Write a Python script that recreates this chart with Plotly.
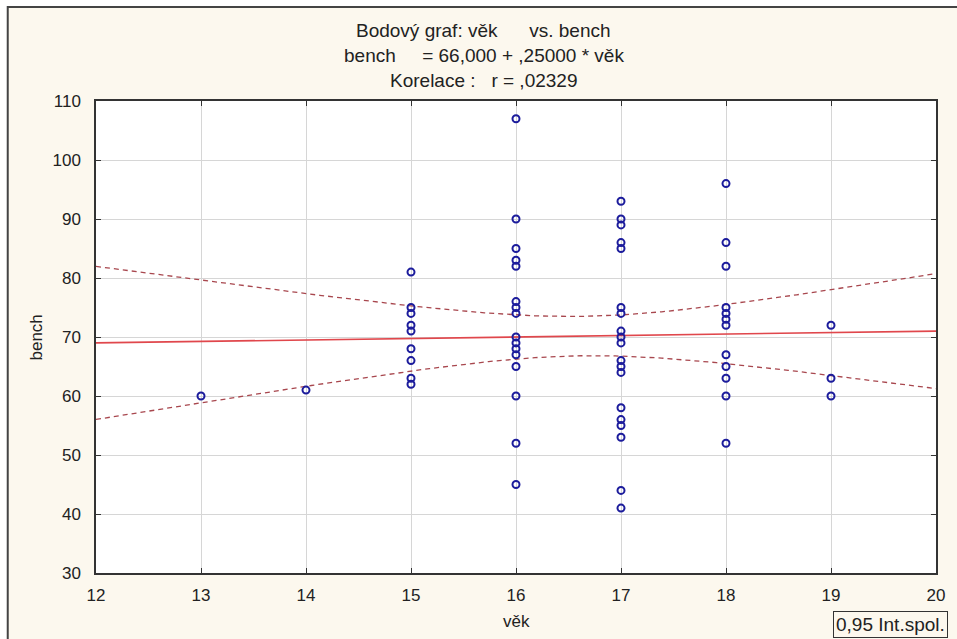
import numpy as np
import plotly.graph_objects as go

# Observations: age (věk) and bench press result (bench)
vek = [13, 14,
       15, 15, 15, 15, 15, 15, 15, 15, 15,
       16, 16, 16, 16, 16, 16, 16, 16, 16, 16, 16, 16, 16, 16, 16, 16,
       17, 17, 17, 17, 17, 17, 17, 17, 17, 17, 17, 17, 17, 17, 17, 17, 17, 17, 17,
       18, 18, 18, 18, 18, 18, 18, 18, 18, 18, 18, 18,
       19, 19, 19]
bench = [60, 61,
         81, 75, 74, 72, 71, 68, 66, 63, 62,
         107, 90, 85, 83, 82, 76, 75, 74, 70, 69, 68, 67, 65, 60, 52, 45,
         93, 90, 89, 86, 85, 75, 74, 71, 70, 69, 66, 65, 64, 58, 56, 55, 53, 44, 41,
         96, 86, 82, 75, 74, 73, 72, 67, 65, 63, 60, 52,
         72, 63, 60]

# Fitted line reported in the header
intercept = 66.0
slope = 0.25
r_value = 0.02329
t_crit = 2.001  # Student t, 0.975 quantile, n-2 degrees of freedom

x_range = [12, 20]
y_range = [30, 110]
x_ticks = [12, 13, 14, 15, 16, 17, 18, 19, 20]
y_ticks = [30, 40, 50, 60, 70, 80, 90, 100, 110]

title_lines = [
    "Bodový graf: věk" + "\u00a0" * 6 + "vs. bench",
    "bench" + "\u00a0" * 5 + "= 66,000 + ,25000 * věk",
    "Korelace :" + "\u00a0" * 3 + "r = ,02329",
]

# 95% confidence band of the regression line
x = np.array(vek, dtype=float)
y = np.array(bench, dtype=float)
n = len(x)
xbar = x.mean()
sxx = ((x - xbar) ** 2).sum()
resid = y - (intercept + slope * x)
s = np.sqrt((resid ** 2).sum() / (n - 2))
xs = np.linspace(x_range[0], x_range[1], 200)
fit = intercept + slope * xs
half = t_crit * s * np.sqrt(1.0 / n + (xs - xbar) ** 2 / sxx)

# Plot geometry in pixels
W, H = 957, 639
ML, MR, MT, MB = 96, 14, 101, 66
PW, PH = W - ML - MR, H - MT - MB


def px(xp):
    return (xp - ML) / PW


def py(yp):
    return (H - MB - yp) / PH


navy = "#1c1c9c"
band_col = "#a8474e"
line_col = "#e0474c"
cream = "#fcf8ee"
font_family = "Liberation Sans, Arial, sans-serif"

fig = go.Figure()
fig.add_trace(go.Scatter(x=xs, y=fit - half, mode="lines",
                         line=dict(color=band_col, width=1.3, dash="5px,4px"),
                         hoverinfo="skip"))
fig.add_trace(go.Scatter(x=xs, y=fit + half, mode="lines",
                         line=dict(color=band_col, width=1.3, dash="5px,4px"),
                         hoverinfo="skip"))
fig.add_trace(go.Scatter(x=xs, y=fit, mode="lines",
                         line=dict(color=line_col, width=1.6), hoverinfo="skip"))
fig.add_trace(go.Scatter(x=vek, y=bench, mode="markers",
                         marker=dict(symbol="circle-open", size=7, color=navy,
                                     line=dict(width=2, color=navy))))

shapes = [
    # outer frame with cream fill
    dict(type="rect", xref="paper", yref="paper", layer="below",
         x0=px(7), x1=px(W + 40), y0=py(H + 40), y1=py(7),
         fillcolor=cream, line=dict(color="#444444", width=2)),
    # white plotting area
    dict(type="rect", xref="paper", yref="paper", layer="below",
         x0=0, x1=1, y0=0, y1=1, fillcolor="white", line=dict(width=0)),
]

annotations = []
for txt, yc in zip(title_lines, [30, 56, 81]):
    annotations.append(dict(text=txt, xref="paper", yref="paper",
                            x=px(487), y=py(yc), xanchor="center", yanchor="middle",
                            showarrow=False,
                            font=dict(family=font_family, size=19, color="#222222")))
annotations.append(dict(text="bench", xref="paper", yref="paper", x=px(36), y=0.5,
                        textangle=-90, xanchor="center", yanchor="middle", showarrow=False,
                        font=dict(family=font_family, size=17, color="#222222")))
annotations.append(dict(text="věk", xref="paper", yref="paper", x=px(520), y=py(621),
                        xanchor="center", yanchor="middle", showarrow=False,
                        font=dict(family=font_family, size=17, color="#222222")))
annotations.append(dict(text="0,95 Int.spol.", xref="paper", yref="paper",
                        x=px(839), y=py(624), xanchor="left", yanchor="middle",
                        showarrow=False, bgcolor=cream, bordercolor="#333333",
                        borderwidth=1, borderpad=2,
                        font=dict(family=font_family, size=19, color="#222222")))

axis_common = dict(showgrid=True, gridcolor="#d6d6d6", gridwidth=1,
                   showline=True, linecolor="#333333", linewidth=1.5,
                   mirror="ticks", ticks="inside", ticklen=5, tickcolor="#333333",
                   zeroline=False,
                   tickfont=dict(family=font_family, size=17, color="#222222"))

fig.update_layout(
    width=W, height=H,
    margin=dict(l=ML, r=MR, t=MT, b=MB),
    paper_bgcolor="white", plot_bgcolor="rgba(0,0,0,0)",
    showlegend=False,
    shapes=shapes, annotations=annotations,
    xaxis=dict(range=x_range, tickvals=x_ticks, ticklabelstandoff=6, **axis_common),
    yaxis=dict(range=y_range, tickvals=y_ticks, ticklabelstandoff=10, **axis_common),
)

fig.write_html("out.html")
